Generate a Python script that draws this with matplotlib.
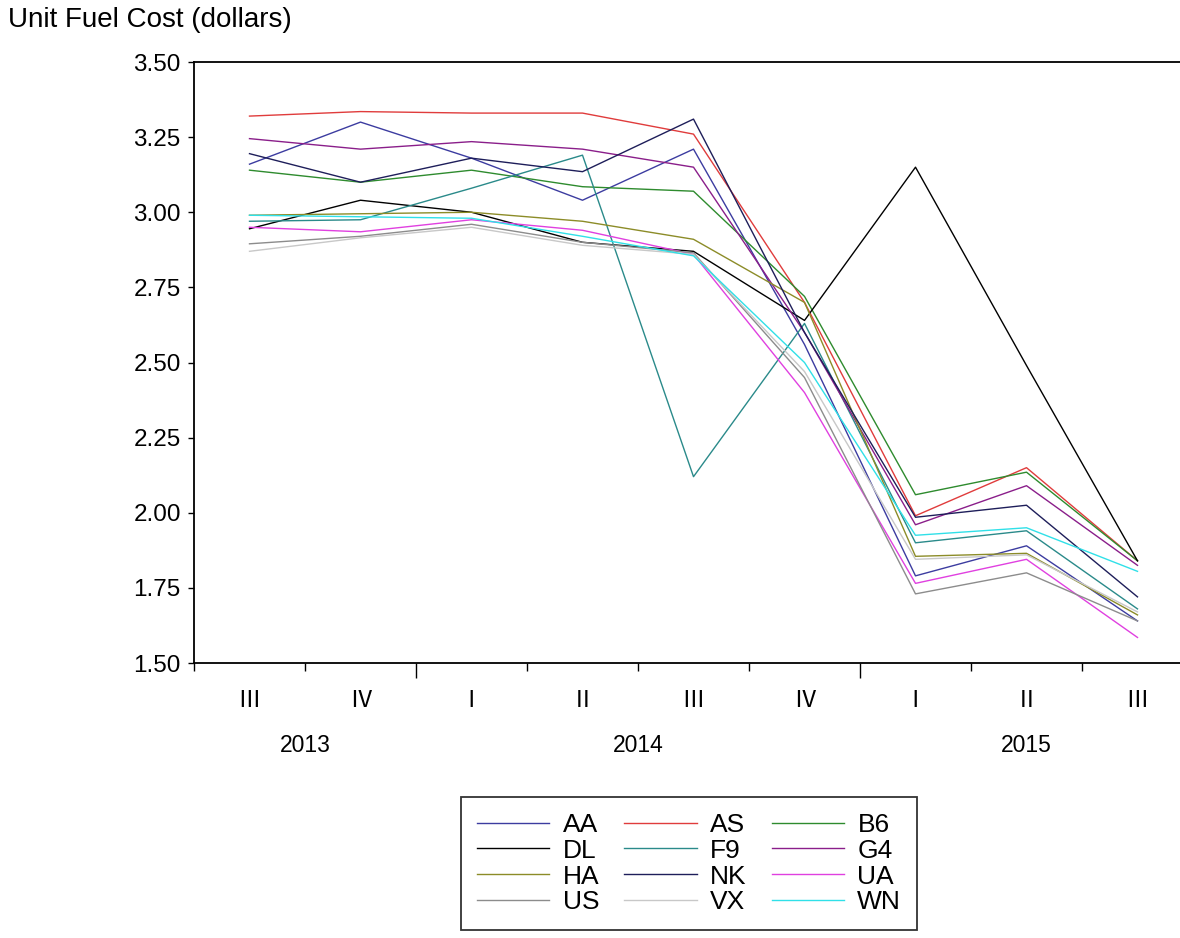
import matplotlib
matplotlib.use("Agg")
import matplotlib.pyplot as plt
import matplotlib.transforms as mtransforms
import numpy as np

# Quarterly periods (2013 Q3 .. 2015 Q3)
quarters = ["Ⅲ", "Ⅳ", "Ⅰ", "Ⅱ", "Ⅲ", "Ⅳ", "Ⅰ", "Ⅱ", "Ⅲ"]
years = [2013, 2013, 2014, 2014, 2014, 2014, 2015, 2015, 2015]

carriers = ["AA", "AS", "B6", "DL", "F9", "G4", "HA", "NK", "UA", "US", "VX", "WN"]

# Unit fuel cost (dollars) per carrier
AA = [3.16, 3.30, 3.18, 3.04, 3.21, 2.56, 1.79, 1.89, 1.64]
AS = [3.32, 3.335, 3.33, 3.33, 3.26, 2.70, 1.99, 2.15, 1.84]
B6 = [3.14, 3.10, 3.14, 3.085, 3.07, 2.72, 2.06, 2.135, 1.84]
DL = [2.945, 3.04, 3.00, 2.90, 2.87, 2.64, 3.15, 2.49, 1.84]
F9 = [2.97, 2.975, 3.08, 3.19, 2.12, 2.63, 1.90, 1.94, 1.68]
G4 = [3.245, 3.21, 3.235, 3.21, 3.15, 2.60, 1.96, 2.09, 1.825]
HA = [2.99, 2.995, 3.00, 2.97, 2.91, 2.70, 1.855, 1.865, 1.66]
NK = [3.195, 3.10, 3.18, 3.135, 3.31, 2.60, 1.985, 2.025, 1.72]
UA = [2.95, 2.935, 2.975, 2.94, 2.86, 2.40, 1.765, 1.845, 1.585]
US = [2.895, 2.92, 2.96, 2.90, 2.865, 2.45, 1.73, 1.80, 1.64]
VX = [2.87, 2.915, 2.95, 2.89, 2.86, 2.47, 1.845, 1.86, 1.67]
WN = [2.99, 2.985, 2.98, 2.92, 2.855, 2.50, 1.925, 1.95, 1.805]

series = [AA, AS, B6, DL, F9, G4, HA, NK, UA, US, VX, WN]
colors = ["#3c3ca0", "#e03c3c", "#2e8b2e", "#000000", "#2a8a8a", "#8a1e8a",
          "#8c8c28", "#1e1e5a", "#e040e0", "#8c8c8c", "#c8c8c8", "#30e0e8"]

W, H = 1180, 938
fig = plt.figure(figsize=(W / 100, H / 100), dpi=100)
ax = fig.add_axes([194 / W, (H - 663) / H, 999 / W, 601 / H])

x = np.arange(len(quarters))
lines = []
for name, vals, c in zip(carriers, series, colors):
    ln, = ax.plot(x, vals, color=c, lw=1.0, label=name)
    lines.append(ln)

ax.set_xlim(-0.5, len(quarters) - 0.5)
ax.set_ylim(1.5, 3.5)
yt = np.arange(1.5, 3.51, 0.25)
ax.set_yticks(yt)
ax.set_yticklabels([f"{v:.2f}" for v in yt], fontsize=17.5, family="Liberation Sans")
ax.tick_params(axis="y", direction="out", length=4.5, width=1.0, pad=5)

for s in ax.spines.values():
    s.set_linewidth(1.3)
    s.set_color("black")

# Quarter boundaries: long ticks between years, short ticks otherwise
bounds = np.arange(-0.5, len(quarters), 1.0)
year_bounds = [b for b in bounds[1:-1]
               if years[int(b - 0.5)] != years[int(b + 0.5)]]
ax.set_xticks(year_bounds)
ax.set_xticks([b for b in bounds if b not in year_bounds], minor=True)
ax.set_xticklabels([])
ax.tick_params(axis="x", which="major", direction="out", length=10.8, width=1.0)
ax.tick_params(axis="x", which="minor", direction="out", length=5.8, width=1.0)

trans = mtransforms.blended_transform_factory(ax.transData, fig.transFigure)
for xi, q in zip(x, quarters):
    ax.text(xi, 1 - 700 / H, q, transform=trans, ha="center", va="center",
            fontsize=17, family=["Noto Sans CJK JP", "DejaVu Sans"])
for yr in sorted(set(years)):
    idx = [i for i, y in enumerate(years) if y == yr]
    ax.text(np.mean(idx), 1 - 745 / H, str(yr), transform=trans,
            ha="center", va="center", fontsize=16.5, family="Liberation Sans")

fig.text(8 / W, 1 - 20 / H, "Unit Fuel Cost (dollars)", ha="left", va="center",
         fontsize=20, family="Liberation Sans")

# Legend laid out row-wise in three columns
ncol = 3
order = [r * ncol + c for c in range(ncol) for r in range(len(lines) // ncol)]
leg = fig.legend([lines[i] for i in order], [carriers[i] for i in order],
                 ncol=ncol, loc="upper left", bbox_to_anchor=(461 / W, 1 - 797 / H),
                 prop={"family": "Liberation Sans", "size": 19},
                 frameon=True, fancybox=False, handlelength=2.75,
                 handletextpad=0.5, columnspacing=0.95, labelspacing=0.07,
                 borderpad=0.6, borderaxespad=0)
leg.get_frame().set_edgecolor("black")
leg.get_frame().set_linewidth(1.3)

fig.savefig("out.png", dpi=100, facecolor="white")
